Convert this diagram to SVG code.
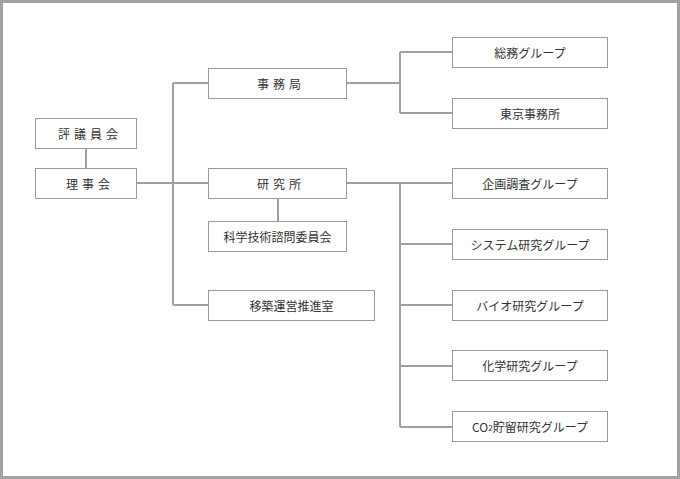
<svg xmlns="http://www.w3.org/2000/svg" width="680" height="479" viewBox="0 0 680 479">
<style>
.box{fill:#fff;stroke:#9a9a9a;stroke-width:1}
.ln{fill:none;stroke:#a0a0a0;stroke-width:2}
text{font-family:"Noto Sans CJK JP","Noto Sans",sans-serif;font-size:12px;fill:#333;text-anchor:middle;dominant-baseline:central}
.sp{letter-spacing:4px}
</style>
<rect x="0" y="0" width="680" height="479" fill="#fff"/>
<rect x="1.5" y="1.5" width="677" height="476" fill="none" stroke="#a3a3a3" stroke-width="3"/>
<g id="connectors">
<path class="ln" d="M86 149V168"/>
<path class="ln" d="M137 183H173M173 83V305M173 83H208M173 183H208M173 305H208"/>
<path class="ln" d="M347 83H400M400 52V113M400 52H452M400 113H452"/>
<path class="ln" d="M278 198V221"/>
<path class="ln" d="M347 183H400M400 183V427M400 183H452M400 244H452M400 305H452M400 366H452M400 427H452"/>
</g>
<g id="n1"><rect class="box" x="35.5" y="118.5" width="101" height="30"/><text class="sp" x="90" y="133.5">評議員会</text></g>
<g id="n2"><rect class="box" x="35.5" y="168.5" width="101" height="30"/><text class="sp" x="90" y="183.5">理事会</text></g>
<g id="n3"><rect class="box" x="208.5" y="68.5" width="138" height="30"/><text class="sp" x="281" y="83.5">事務局</text></g>
<g id="n4"><rect class="box" x="208.5" y="168.5" width="138" height="30"/><text class="sp" x="281" y="183.5">研究所</text></g>
<g id="n5"><rect class="box" x="208.5" y="221.5" width="138" height="30"/><text x="277.5" y="236.5">科学技術諮問委員会</text></g>
<g id="n6"><rect class="box" x="208.5" y="290.5" width="166" height="30"/><text x="291.5" y="305.5">移築運営推進室</text></g>
<g id="n7"><rect class="box" x="452.5" y="37.5" width="155" height="30"/><text x="530" y="52.5">総務グループ</text></g>
<g id="n8"><rect class="box" x="452.5" y="98.5" width="155" height="30"/><text x="530" y="113.5">東京事務所</text></g>
<g id="n9"><rect class="box" x="452.5" y="168.5" width="155" height="30"/><text x="530" y="183.5">企画調査グループ</text></g>
<g id="n10"><rect class="box" x="452.5" y="229.5" width="155" height="30"/><text x="530" y="244.5">システム研究グループ</text></g>
<g id="n11"><rect class="box" x="452.5" y="290.5" width="155" height="30"/><text x="530" y="305.5">バイオ研究グループ</text></g>
<g id="n12"><rect class="box" x="452.5" y="350.5" width="155" height="30"/><text x="530" y="365.5">化学研究グループ</text></g>
<g id="n13"><rect class="box" x="452.5" y="411.5" width="155" height="30"/><text x="530" y="426.5">CO<tspan font-size="8">2</tspan>貯留研究グループ</text></g>
</svg>
